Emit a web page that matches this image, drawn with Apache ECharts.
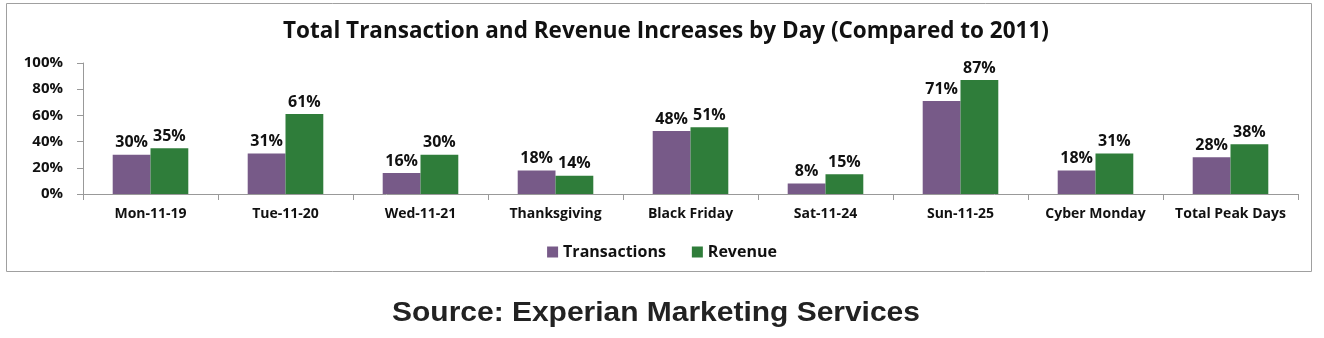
<!DOCTYPE html>
<html><head><meta charset="utf-8">
<script src="https://cdn.jsdelivr.net/npm/echarts@6/dist/echarts.min.js"></script>
<style>html,body{margin:0;padding:0;background:#fff}#c{width:1324px;height:338px}</style>
</head><body><div id="c"></div>
<script>
const categories = ['Mon-11-19','Tue-11-20','Wed-11-21','Thanksgiving','Black Friday','Sat-11-24','Sun-11-25','Cyber Monday','Total Peak Days'];
const transactions = [30,31,16,18,48,8,71,18,28];
const revenue = [35,61,30,14,51,15,87,31,38];
const yTicks = [0,20,40,60,80,100];

const F = '"Open Sans"';
const chart = echarts.init(document.getElementById('c'));
const labelStyle = {show:true, position:'top', distance:4, formatter:'{c}%', fontFamily:F, fontWeight:'bold', fontSize:16, color:'#111'};
chart.setOption({
  animation:false,
  graphic:[
    {type:'rect', shape:{x:6.5,y:3.5,width:1305,height:268}, style:{fill:'none', stroke:'#a0a0a0', lineWidth:1}},
    {type:'text', x:656, y:313, scaleX:1.07, style:{text:'Source: Experian Marketing Services', font:'bold 28px "Liberation Sans", Arial', fill:'#222', align:'center', verticalAlign:'middle'}}
  ],
  title:{text:'Total Transaction and Revenue Increases by Day (Compared to 2011)', left:661, textAlign:'center', top:15,
    textStyle:{fontFamily:F, fontWeight:'bold', fontSize:22.5, color:'#111'}},
  legend:{data:['Transactions','Revenue'], top:239, left:'center', itemWidth:11, itemHeight:11, itemGap:26, icon:'rect',
    textStyle:{fontFamily:F, fontWeight:'bold', fontSize:16, color:'#111'}},
  grid:{left:83, right:26, top:63, bottom:144},
  xAxis:{type:'category', data:categories, axisLine:{lineStyle:{color:'#999'}}, axisTick:{show:true, length:6, lineStyle:{color:'#999'}},
    axisLabel:{interval:0, hideOverlap:false, fontFamily:F, fontWeight:'bold', fontSize:14, color:'#111', margin:13}},
  yAxis:{type:'value', min:0, max:100, interval:20, axisLine:{show:true, lineStyle:{color:'#999'}}, axisTick:{show:true, length:6, lineStyle:{color:'#999'}},
    splitLine:{show:false},
    axisLabel:{formatter:v=>yTicks.includes(v)?v+'%':'', fontFamily:F, fontWeight:'bold', fontSize:15, color:'#111', margin:20}},
  series:[
    {name:'Transactions', type:'bar', data:transactions, barGap:'0%', barCategoryGap:'44%', itemStyle:{color:'#775a88'}, label:labelStyle},
    {name:'Revenue', type:'bar', data:revenue, barGap:'0%', barCategoryGap:'44%', itemStyle:{color:'#2f7d3a'}, label:labelStyle}
  ]
});
</script></body></html>
